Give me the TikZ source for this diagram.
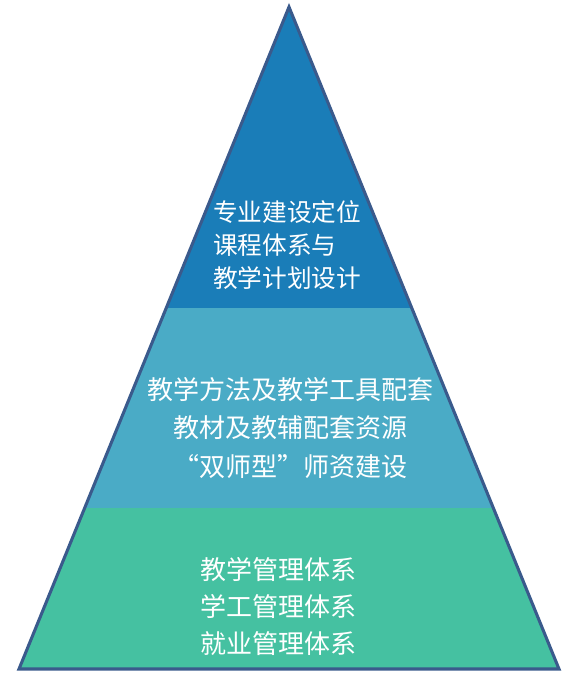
\documentclass[tikz,border=0pt]{standalone}
\usepackage{fontspec}
\newfontfamily\cjk{Noto Sans CJK SC}
\usetikzlibrary{calc}
\definecolor{layertop}{HTML}{1A7DB8}
\definecolor{layermid}{HTML}{4AABC6}
\definecolor{layerbase}{HTML}{45C1A1}
\definecolor{rim}{HTML}{3A5A8C}

\begin{document}
\begin{tikzpicture}[
    x=0.75pt, y=-0.75pt,
    label/.style={text=white, inner sep=0pt},
]
\useasboundingbox (0,0) rectangle (571,681);
% Corners of the pyramid.
\coordinate (apex) at (289,7);
\coordinate (bl) at (19,669);
\coordinate (br) at (559,669);
% Band boundaries along the two sides.
\coordinate (l1) at ($(apex)!0.4547!(bl)$);
\coordinate (r1) at ($(apex)!0.4547!(br)$);
\coordinate (l2) at ($(apex)!0.7568!(bl)$);
\coordinate (r2) at ($(apex)!0.7568!(br)$);

% Three layers.
\fill[layertop]  (apex) -- (r1) -- (l1) -- cycle;
\fill[layermid]  (l1) -- (r1) -- (r2) -- (l2) -- cycle;
\fill[layerbase] (l2) -- (r2) -- (br) -- (bl) -- cycle;
\draw[rim, line width=2.3pt] (apex) -- (br) -- (bl) -- cycle;

% Texts of the layers.
\node[label, anchor=west, align=left,
      font=\cjk\fontsize{18.5}{24.75}\selectfont] (toptext) at (213,245)
  {专业建设定位\\课程体系与\\教学计划设计};
\node[label, align=center,
      font=\cjk\fontsize{19.5}{29}\selectfont] (midtext) at (290,428)
  {教学方法及教学工具配套\\教材及教辅配套资源\\“双师型”师资建设};
\node[label, anchor=west, align=left,
      font=\cjk\fontsize{19.5}{27.75}\selectfont] (basetext) at (200,607)
  {教学管理体系\\学工管理体系\\就业管理体系};
\end{tikzpicture}
\end{document}
